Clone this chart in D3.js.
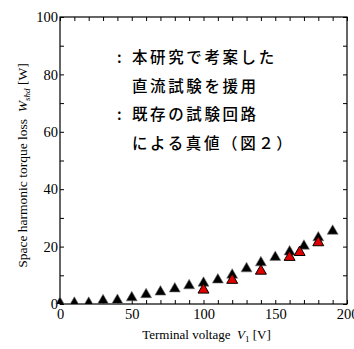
<!DOCTYPE html>
<html>
<head>
<meta charset="utf-8">
<script src="https://d3js.org/d3.v7.min.js"></script>
<style>
  body { margin: 0; background: #fff; }
  svg text { font-family: "Liberation Serif", "DejaVu Serif", serif; fill: #000; }
  .jp { font-family: "Noto Sans CJK JP", sans-serif; font-weight: 500; }
</style>
</head>
<body>
<svg id="chart" width="354" height="349"></svg>
<script>
// proposed method (DC test) - black triangles
const dcVolt = [0, 10, 20, 30, 40, 50, 60, 70, 80, 90, 100, 110, 120, 130, 140, 150, 160, 170, 180, 190];
const dcLoss = [0.3, 0.3, 0.3, 1.2, 1.3, 2.2, 3.3, 4.2, 5.3, 6.4, 7.3, 8.4, 10.1, 12.3, 14.4, 16.3, 18.2, 20.2, 23.1, 25.4];
// true value from existing circuit - red triangles
const refVolt = [100, 120, 140, 160, 167, 180];
const refLoss = [4.9, 8.3, 11.5, 16.3, 18.0, 21.4];

const xTicks = d3.range(0, 201, 10);
const yTicks = d3.range(0, 101, 10);
const legendLines = [": 本研究で考案した", "直流試験を援用", ": 既存の試験回路", "による真値（図２）"];

const svg = d3.select("#chart");
const L = 60, R = 347, T = 17, B = 304;

const x = d3.scaleLinear().domain([0, 200]).range([L, R]);
const y = d3.scaleLinear().domain([0, 100]).range([B, T]);

const fmtX = d => d % 50 === 0 ? d : "";
const fmtY = d => d % 20 === 0 ? d : "";

function styleAxis(g) {
  g.select(".domain").remove();
  g.selectAll("line").attr("stroke", "#000").attr("stroke-width", 1);
  g.selectAll("text").attr("font-size", 14.5).attr("font-family", "Liberation Serif");
}

svg.append("g").attr("transform", `translate(0,${B})`)
  .call(d3.axisBottom(x).tickValues(xTicks).tickSize(-4).tickPadding(5).tickFormat(fmtX))
  .call(styleAxis);
svg.append("g").attr("transform", `translate(0,${T})`)
  .call(d3.axisTop(x).tickValues(xTicks).tickSize(-4).tickFormat(""))
  .call(styleAxis);
svg.append("g").attr("transform", `translate(${L},0)`)
  .call(d3.axisLeft(y).tickValues(yTicks).tickSize(-4).tickPadding(2).tickFormat(fmtY))
  .call(styleAxis);
svg.append("g").attr("transform", `translate(${R},0)`)
  .call(d3.axisRight(y).tickValues(yTicks).tickSize(-4).tickFormat(""))
  .call(styleAxis);

// frame
svg.append("rect")
  .attr("x", L).attr("y", T).attr("width", R - L).attr("height", B - T)
  .attr("fill", "none").attr("stroke", "#000").attr("stroke-width", 1.2);

svg.append("clipPath").attr("id", "clip")
  .append("rect").attr("x", 0).attr("y", 0).attr("width", 354).attr("height", B);

const tri = d3.symbol().type(d3.symbolTriangle).size(52);
const marks = svg.append("g").attr("clip-path", "url(#clip)");

marks.selectAll(".dc").data(dcVolt).join("path")
  .attr("class", "dc")
  .attr("d", tri)
  .attr("transform", (d, i) => `translate(${x(d)},${y(dcLoss[i])})`)
  .attr("fill", "#000").attr("stroke", "#777").attr("stroke-width", 0.6);

marks.selectAll(".ref").data(refVolt).join("path")
  .attr("class", "ref")
  .attr("d", tri)
  .attr("transform", (d, i) => `translate(${x(d)},${y(refLoss[i])})`)
  .attr("fill", "#e00000").attr("stroke", "#000").attr("stroke-width", 1);

// legend text (no symbols shown)
const leg = svg.append("g").attr("class", "jp").attr("font-size", 15.5);
legendLines.forEach((t, i) => {
  const yy = 63 + i * 28.5;
  if (t.startsWith(": ")) {
    leg.append("text").attr("class", "jp").attr("x", 117).attr("y", yy).text(":");
    t = t.slice(2);
  }
  leg.append("text").attr("class", "jp").attr("x", 132).attr("y", yy)
    .attr("letter-spacing", 2.6).text(t);
});

// x label
const xl = svg.append("text").attr("x", (L + R) / 2 + 3).attr("y", 339)
  .attr("text-anchor", "middle").attr("font-size", 13);
xl.append("tspan").text("Terminal voltage\u00a0\u00a0");
xl.append("tspan").attr("font-style", "italic").text("V");
xl.append("tspan").attr("font-size", 9).attr("dy", 3).text("1");
xl.append("tspan").attr("dy", -3).text(" [V]");

// y label
const yl = svg.append("text")
  .attr("transform", `translate(27,${(T + B) / 2 + 5}) rotate(-90)`)
  .attr("text-anchor", "middle").attr("font-size", 13.5);
yl.append("tspan").text("Space harmonic torque loss\u00a0\u00a0");
yl.append("tspan").attr("font-style", "italic").text("W");
yl.append("tspan").attr("font-style", "italic").attr("font-size", 9).attr("dy", 3).text("shd");
yl.append("tspan").attr("dy", -3).text(" [W]");
</script>
</body>
</html>
